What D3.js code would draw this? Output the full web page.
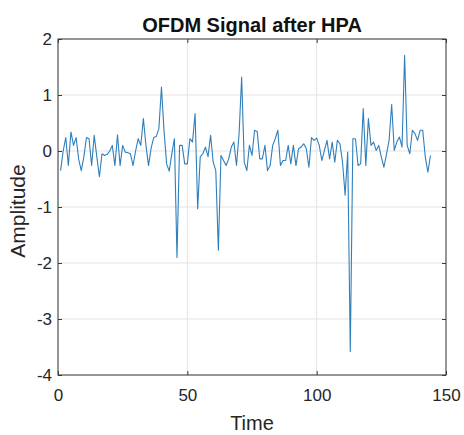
<!DOCTYPE html>
<html>
<head>
<meta charset="utf-8">
<script src="https://cdn.jsdelivr.net/npm/d3@7"></script>
<style>
	html, body { margin: 0; padding: 0; background: #fff; }
	svg { display: block; font-family: 'Liberation Sans', Arial, sans-serif; }
</style>
</head>
<body>
<div id="chart"></div>
<script>
// Amplitude of the signal, sample index 1..144
const amplitude = [
	-0.35, 0.00, 0.24, -0.26, 0.34, 0.10, 0.24, -0.15, -0.35, -0.10,
	0.24, 0.22, -0.26, 0.28, -0.10, -0.46, -0.05, -0.08, -0.06, 0.00,
	0.10, -0.26, 0.29, -0.26, 0.10, -0.02, -0.03, -0.05, -0.26, 0.00,
	0.22, 0.10, 0.58, 0.10, -0.26, 0.05, 0.24, 0.26, 0.40, 1.14,
	0.35, -0.23, -0.36, -0.05, 0.22, -1.90, 0.10, 0.10, -0.23, -0.23,
	0.22, 0.16, 0.67, -1.03, -0.10, -0.05, 0.07, -0.10, 0.28, -0.20,
	-0.35, -1.77, -0.08, -0.17, -0.26, -0.14, 0.07, 0.16, -0.26, 0.30,
	1.32, -0.20, -0.35, 0.10, -0.08, 0.37, 0.35, -0.14, -0.14, 0.10,
	-0.35, -0.26, 0.10, 0.22, 0.37, -0.26, -0.17, -0.17, 0.10, -0.23,
	0.10, -0.26, 0.04, 0.07, 0.13, 0.04, -0.29, 0.24, 0.19, 0.23,
	0.10, -0.17, 0.01, 0.19, -0.14, 0.16, -0.20, 0.19, 0.13, -0.20,
	-0.79, -0.02, -3.58, 0.22, 0.22, -0.26, -0.23, 0.76, -0.26, 0.58,
	0.10, 0.16, 0.01, 0.10, -0.11, -0.29, -0.05, 0.19, 0.83, 0.01,
	0.16, 0.25, 0.07, 1.71, 0.10, -0.05, 0.37, 0.31, 0.19, 0.37,
	0.37, -0.11, -0.38, -0.08
];
const time = amplitude.map((_, i) => i + 1);

const xTicks = [0, 50, 100, 150];
const yTicks = [-4, -3, -2, -1, 0, 1, 2];

const WIDTH = 464;
const HEIGHT = 435;
const margin = { top: 39, right: 18, bottom: 60, left: 58 };
const TICK_LEN = 4;

const svg = d3.select('#chart').append('svg')
	.attr('width', WIDTH).attr('height', HEIGHT);

const innerW = WIDTH - margin.left - margin.right;
const innerH = HEIGHT - margin.top - margin.bottom;

const x = d3.scaleLinear().domain([0, 150]).range([0, innerW]);
const y = d3.scaleLinear().domain([-4, 2]).range([innerH, 0]);

// plain integers with an ASCII hyphen, as MATLAB prints them
const fmt = (d) => String(d);

const g = svg.append('g').attr('transform', `translate(${margin.left}, ${margin.top})`);

// grid
g.append('g').attr('class', 'grid-x')
	.selectAll('line').data(xTicks).join('line')
	.attr('x1', (d) => x(d)).attr('x2', (d) => x(d))
	.attr('y1', 0).attr('y2', innerH)
	.attr('stroke', '#e3e3e3').attr('stroke-width', 1);
g.append('g').attr('class', 'grid-y')
	.selectAll('line').data(yTicks).join('line')
	.attr('x1', 0).attr('x2', innerW)
	.attr('y1', (d) => y(d)).attr('y2', (d) => y(d))
	.attr('stroke', '#e3e3e3').attr('stroke-width', 1);

// signal
const line = d3.line().x((d, i) => x(time[i])).y((d) => y(d));
g.append('path')
	.datum(amplitude)
	.attr('d', line)
	.attr('fill', 'none')
	.attr('stroke', '#2f7fbc')
	.attr('stroke-width', 1.1)
	.attr('stroke-linejoin', 'round');

// axes (MATLAB style: ticks point inward, box on)
const axisColor = '#3a3a3a';
const styleAxis = (sel) => {
	sel.select('.domain').remove();
	sel.selectAll('.tick line').attr('stroke', axisColor);
	sel.selectAll('.tick text')
		.attr('fill', '#262626').attr('font-size', '17px');
};

g.append('g')
	.attr('transform', `translate(0, ${innerH})`)
	.call(d3.axisBottom(x).tickValues(xTicks).tickFormat(fmt).tickSizeInner(-TICK_LEN).tickSizeOuter(0).tickPadding(14))
	.call(styleAxis);
g.append('g')
	.call(d3.axisTop(x).tickValues(xTicks).tickSizeInner(-TICK_LEN).tickSizeOuter(0).tickFormat(''))
	.call(styleAxis);
g.append('g')
	.call(d3.axisLeft(y).tickValues(yTicks).tickFormat(fmt).tickSizeInner(-TICK_LEN).tickSizeOuter(0).tickPadding(6))
	.call(styleAxis);
g.append('g')
	.attr('transform', `translate(${innerW}, 0)`)
	.call(d3.axisRight(y).tickValues(yTicks).tickSizeInner(-TICK_LEN).tickSizeOuter(0).tickFormat(''))
	.call(styleAxis);

g.append('rect')
	.attr('x', 0).attr('y', 0).attr('width', innerW).attr('height', innerH)
	.attr('fill', 'none').attr('stroke', axisColor).attr('stroke-width', 1);

// labels
svg.append('text')
	.attr('x', margin.left + innerW / 2).attr('y', 32)
	.attr('text-anchor', 'middle')
	.attr('font-size', '20px').attr('font-weight', 'bold').attr('fill', '#111')
	.text('OFDM Signal after HPA');

svg.append('text')
	.attr('x', margin.left + innerW / 2).attr('y', 430)
	.attr('text-anchor', 'middle')
	.attr('font-size', '20px').attr('fill', '#262626')
	.text('Time');

svg.append('text')
	.attr('transform', `translate(25, ${margin.top + innerH / 2 + 4}) rotate(-90)`)
	.attr('text-anchor', 'middle')
	.attr('font-size', '21px').attr('fill', '#262626')
	.text('Amplitude');
</script>
</body>
</html>
